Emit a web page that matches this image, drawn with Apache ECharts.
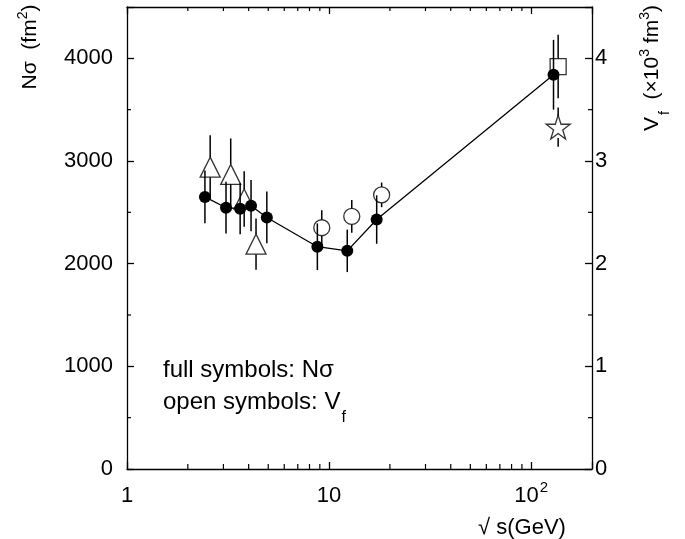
<!DOCTYPE html>
<html>
<head>
<meta charset="utf-8">
<script src="https://cdn.jsdelivr.net/npm/echarts@6/dist/echarts.min.js"></script>
<style>
  html, body { margin: 0; padding: 0; background: #fff; }
  #chart { width: 685px; height: 539px; }
</style>
</head>
<body>
<div id="chart"></div>
<script>
// N sigma (full symbols, left axis) and V_f (open symbols, right axis) vs sqrt(s)

// full circles: N sigma in fm^2
const fullX = [2.43, 3.09, 3.63, 4.11, 4.92, 8.75, 12.3, 17.2, 129];
const fullN = [2650, 2545, 2535, 2565, 2450, 2165, 2125, 2430, 3840];
const fullErr = [257, 252, 249, 249, 252, 227, 207, 236, 340];

// open symbols: V_f in 10^3 fm^3
const triX = [2.58, 3.26, 3.80, 4.35];
const triV = [2.94, 2.87, 2.63, 2.19];
const triErr = [0.31, 0.35, 0.27, 0.25];

const circX = [9.2, 12.95, 18.2];
const circV = [2.35, 2.46, 2.67];
const circErr = [0.17, 0.16, 0.12];

const sqX = [136];
const sqV = [3.92];
const sqErr = [0.31];

const starX = [136];
const starV = [3.33];
const starErr = [0.19];

// minor tick positions
const xMinor = [2, 3, 4, 5, 6, 7, 8, 9, 20, 30, 40, 50, 60, 70, 80, 90];
const yMinor = [500, 1500, 2500, 3500];

const FONT = 'Liberation Sans, Arial, sans-serif';

function zip(xs, ys, es) {
    return xs.map((x, i) => [x, ys[i], es[i]]);
}

// vertical error bar, optionally interrupted by an open symbol
function errBar(gap) {
    return function (params, api) {
        const x = api.value(0), y = api.value(1), e = api.value(2);
        const c = api.coord([x, y]);
        const hi = api.coord([x, y + e]);
        const lo = api.coord([x, y - e]);
        const st = { stroke: '#000', lineWidth: 1.5 };
        if (!gap) {
            return { type: 'line', shape: { x1: c[0], y1: hi[1], x2: c[0], y2: lo[1] }, style: st };
        }
        return {
            type: 'group',
            children: [
                { type: 'line', shape: { x1: c[0], y1: hi[1], x2: c[0], y2: c[1] - gap }, style: st },
                { type: 'line', shape: { x1: c[0], y1: c[1] + gap, x2: c[0], y2: lo[1] }, style: st }
            ]
        };
    };
}

// short tick: value pair [x, y] on the axes, pixel direction (dx, dy)
function tick(dx, dy) {
    return function (params, api) {
        const p = api.coord([api.value(0), api.value(1)]);
        return {
            type: 'line',
            shape: { x1: p[0], y1: p[1], x2: p[0] + dx, y2: p[1] + dy },
            style: { stroke: '#000', lineWidth: 1.2 }
        };
    };
}

const openStyle = { color: 'rgba(0,0,0,0)', borderColor: '#000', borderWidth: 1.3 };

let chart = echarts.init(document.getElementById('chart'));

let option = {
    animation: false,
    backgroundColor: '#fff',
    textStyle: { fontFamily: FONT },
    grid: { left: 127, right: 93, top: 7, bottom: 70 },
    xAxis: [
        {
            type: 'log', logBase: 10, min: 1, max: 200, position: 'bottom',
            axisLine: { onZero: false, lineStyle: { color: '#000', width: 1.3 } },
            axisTick: { inside: true, length: 7, lineStyle: { color: '#000', width: 1.3 } },
            splitLine: { show: false },
            axisLabel: {
                color: '#000', fontSize: 22, fontFamily: FONT, margin: 11, lineHeight: 32,
                formatter: function (v) {
                    const r = Math.round(v);
                    if (r === 1) return '1';
                    if (r === 10) return '10';
                    if (r === 100) return '10{sup|2}';
                    return '';
                },
                rich: { sup: { fontSize: 15, fontFamily: FONT, color: '#000', padding: [0, 0, 16, 1] } }
            }
        },
        {
            type: 'log', logBase: 10, min: 1, max: 200, position: 'top',
            axisLine: { onZero: false, lineStyle: { color: '#000', width: 1.3 } },
            axisTick: { inside: true, length: 7, lineStyle: { color: '#000', width: 1.3 } },
            splitLine: { show: false },
            axisLabel: { show: false }
        }
    ],
    yAxis: [
        {
            type: 'value', min: 0, max: 4500, interval: 1000, position: 'left',
            axisLine: { show: true, onZero: false, lineStyle: { color: '#000', width: 1.3 } },
            axisTick: { show: true, inside: true, length: 7, lineStyle: { color: '#000', width: 1.3 } },
            splitLine: { show: false },
            axisLabel: {
                color: '#000', fontSize: 22, fontFamily: FONT, margin: 14,
                formatter: v => (v % 1000 === 0 ? String(v) : '')
            }
        },
        {
            type: 'value', min: 0, max: 4.5, interval: 1, position: 'right',
            axisLine: { show: true, onZero: false, lineStyle: { color: '#000', width: 1.3 } },
            axisTick: { show: true, inside: true, length: 7, lineStyle: { color: '#000', width: 1.3 } },
            splitLine: { show: false },
            axisLabel: {
                color: '#000', fontSize: 22, fontFamily: FONT, margin: 3,
                formatter: v => (Math.abs(v - Math.round(v)) < 1e-6 ? String(Math.round(v)) : '')
            }
        }
    ],
    graphic: [
        {
            type: 'text', x: 30, y: 47, rotation: Math.PI / 2,
            style: {
                text: 'N\u03c3  (fm{sup|2})', font: '21px ' + FONT, fill: '#000',
                align: 'center', verticalAlign: 'middle',
                rich: { sup: { fontSize: 14, fontFamily: FONT, fill: '#000', padding: [0, 0, 14, 0] } }
            }
        },
        {
            type: 'text', x: 652, y: 68, rotation: Math.PI / 2,
            style: {
                text: 'V{sub|f}  (\u00d710{sup|3} fm{sup|3})', font: '21px ' + FONT, fill: '#000',
                align: 'center', verticalAlign: 'middle',
                rich: {
                    sup: { fontSize: 14, fontFamily: FONT, fill: '#000', padding: [0, 0, 14, 0] },
                    sub: { fontSize: 14, fontFamily: FONT, fill: '#000', padding: [26, 0, 0, 2] }
                }
            }
        },
        {
            type: 'text', x: 163, y: 370,
            style: {
                text: 'full symbols: N\u03c3', font: '24px ' + FONT, fill: '#000',
                align: 'left', verticalAlign: 'middle'
            }
        },
        {
            type: 'text', x: 163, y: 402,
            style: {
                text: 'open symbols: V{sub|f}', font: '24px ' + FONT, fill: '#000',
                align: 'left', verticalAlign: 'middle',
                rich: { sub: { fontSize: 16, fontFamily: FONT, fill: '#000', padding: [32, 0, 0, 1] } }
            }
        },
        {
            type: 'text', x: 522, y: 528,
            style: { text: '\u221a s(GeV)', font: '22px ' + FONT, fill: '#000', align: 'center', verticalAlign: 'middle' }
        }
    ],
    series: [
        // minor ticks: bottom, top, left, right
        { type: 'custom', silent: true, clip: false, zlevel: 1, z: 100, data: xMinor.map(x => [x, 0]), renderItem: tick(0, -5) },
        { type: 'custom', silent: true, clip: false, zlevel: 1, z: 100, data: xMinor.map(x => [x, 4500]), renderItem: tick(0, 4) },
        { type: 'custom', silent: true, clip: false, zlevel: 1, z: 100, data: yMinor.map(y => [1, y]), renderItem: tick(4, 0) },
        { type: 'custom', silent: true, clip: false, zlevel: 1, z: 100, data: yMinor.map(y => [200, y]), renderItem: tick(-4, 0) },
        {
            type: 'custom', yAxisIndex: 0, silent: true, z: 2,
            data: zip(fullX, fullN, fullErr), renderItem: errBar(0)
        },
        {
            type: 'custom', yAxisIndex: 1, silent: true, z: 2,
            data: zip(triX, triV, triErr), renderItem: errBar(10)
        },
        {
            type: 'custom', yAxisIndex: 1, silent: true, z: 2,
            data: zip(circX, circV, circErr), renderItem: errBar(8)
        },
        {
            type: 'custom', yAxisIndex: 1, silent: true, z: 2,
            data: zip(sqX, sqV, sqErr), renderItem: errBar(8)
        },
        {
            type: 'custom', yAxisIndex: 1, silent: true, z: 2,
            data: zip(starX, starV, starErr), renderItem: errBar(11)
        },
        {
            name: 'N sigma', type: 'line', yAxisIndex: 0, z: 4,
            data: fullX.map((x, i) => [x, fullN[i]]),
            symbol: 'circle', symbolSize: 12, showSymbol: true,
            itemStyle: { color: '#000' },
            lineStyle: { color: '#000', width: 1.3 }
        },
        {
            type: 'scatter', yAxisIndex: 1, z: 3,
            data: triX.map((x, i) => [x, triV[i]]),
            symbol: 'triangle', symbolSize: [20, 20], itemStyle: openStyle
        },
        {
            type: 'scatter', yAxisIndex: 1, z: 3,
            data: circX.map((x, i) => [x, circV[i]]),
            symbol: 'circle', symbolSize: 16, itemStyle: openStyle
        },
        {
            type: 'scatter', yAxisIndex: 1, z: 3,
            data: sqX.map((x, i) => [x, sqV[i]]),
            symbol: 'rect', symbolSize: 16, itemStyle: openStyle
        },
        {
            type: 'scatter', yAxisIndex: 1, z: 3,
            data: starX.map((x, i) => [x, starV[i]]),
            symbol: 'path://M50,0 L61.8,35.5 L100,35.5 L69.1,57.6 L80.9,93.5 L50,71.4 L19.1,93.5 L30.9,57.6 L0,35.5 L38.2,35.5 Z',
            symbolSize: 24, itemStyle: openStyle
        }
    ]
};

chart.setOption(option);
</script>
</body>
</html>
